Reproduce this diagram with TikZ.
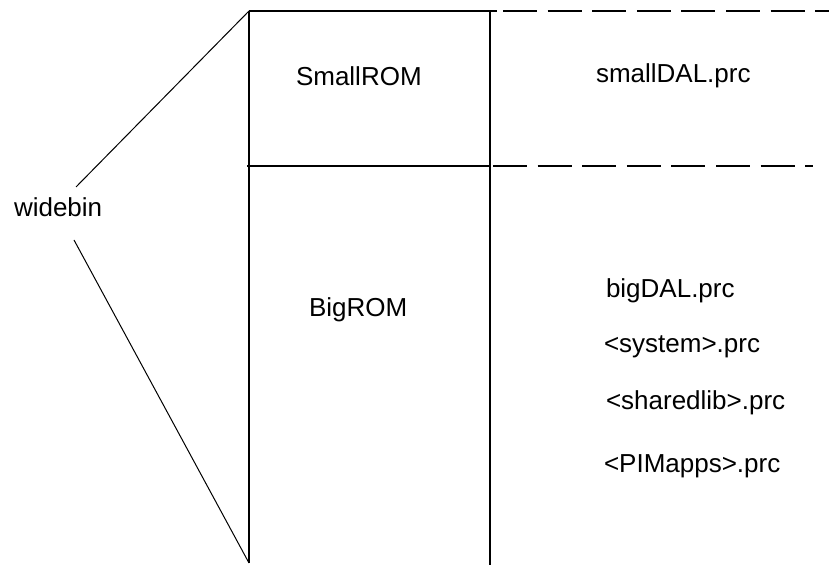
\documentclass[tikz,border=0pt]{standalone}
\usepackage{fontspec}
\setmainfont{Liberation Sans}
\usetikzlibrary{positioning}

\begin{document}
\begin{tikzpicture}[x=0.5pt, y=-0.5pt, line width=1pt, txt/.style={inner sep=0pt, anchor=base west, font=\fontsize{13}{15}\selectfont}, split/.style={dash pattern=on 17pt off 5.3pt}]
\useasboundingbox (0,0) rectangle (829,565);

\coordinate (tl) at (249,11);
\coordinate (tr) at (497,11);
\coordinate (ml) at (247,166);
\coordinate (mr) at (490,166);
\coordinate (bl) at (249,563);
\coordinate (rt) at (490,11);
\coordinate (rb) at (490,565);
\coordinate (topdash) at (503,11);
\coordinate (topend) at (829,11);
\coordinate (middash) at (493,166);
\coordinate (midend) at (813,166);
\coordinate (wtop) at (76,187);
\coordinate (wbot) at (74,240);

\draw (tl) -- (bl);
\draw (rt) -- (rb);
\draw (tl) -- (tr);
\draw (ml) -- (mr);
\draw[split] (topdash) -- (topend);
\draw[split] (middash) -- (midend);

\node[txt](smallrom) at (295,86) {SmallROM};
\node[txt](bigrom) at (308,317) {BigROM};
\node[txt](widebin) at (13,217) {widebin};
\draw[line width=0.5pt] (tl) -- (wtop);
\draw[line width=0.5pt] (wbot) -- (bl);

\node[txt](smalldal) at (595,83) {smallDAL.prc};
\node[txt](bigdal) at (605,298) {bigDAL.prc};
\node[txt](system) at (603,353) {<system>.prc};
\node[txt](sharedlib) at (605,410) {<sharedlib>.prc};
\node[txt](pimapps) at (603,473) {<PIMapps>.prc};
\end{tikzpicture}
\end{document}
